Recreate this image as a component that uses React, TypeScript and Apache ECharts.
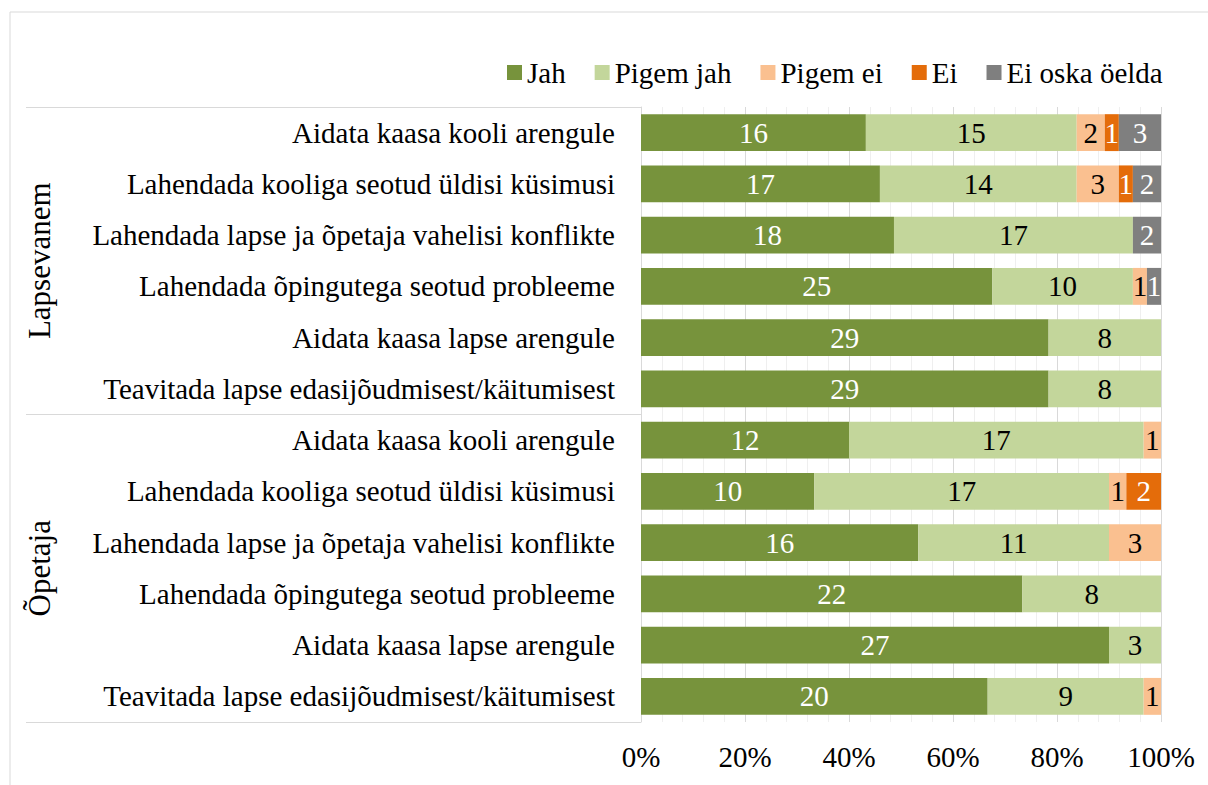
import React, { useEffect, useRef } from "react";
import * as echarts from "echarts";

const categories = [
  "Aidata kaasa kooli arengule",
  "Lahendada kooliga seotud üldisi küsimusi",
  "Lahendada lapse ja õpetaja vahelisi konflikte",
  "Lahendada õpingutega seotud probleeme",
  "Aidata kaasa lapse arengule",
  "Teavitada lapse edasijõudmisest/käitumisest",
  "Aidata kaasa kooli arengule",
  "Lahendada kooliga seotud üldisi küsimusi",
  "Lahendada lapse ja õpetaja vahelisi konflikte",
  "Lahendada õpingutega seotud probleeme",
  "Aidata kaasa lapse arengule",
  "Teavitada lapse edasijõudmisest/käitumisest",
];
const groups = ["Lapsevanem", "Õpetaja"];
const seriesNames = ["Jah", "Pigem jah", "Pigem ei", "Ei", "Ei oska öelda"];
const jah = [16, 17, 18, 25, 29, 29, 12, 10, 16, 22, 27, 20];
const pigemJah = [15, 14, 17, 10, 8, 8, 17, 17, 11, 8, 3, 9];
const pigemEi = [2, 3, 0, 1, 0, 0, 1, 1, 3, 0, 0, 1];
const ei = [1, 1, 0, 0, 0, 0, 0, 2, 0, 0, 0, 0];
const eiOska = [3, 2, 2, 1, 0, 0, 0, 0, 0, 0, 0, 0];
const xTicks = [0, 20, 40, 60, 80, 100];

const colors = ["#77933C", "#C3D69B", "#FAC090", "#E46C0A", "#7F7F7F"];
const labelColors = ["#ffffff", "#000000", "#000000", "#ffffff", "#ffffff"];
const FONT = "'Liberation Serif', 'Times New Roman', serif";

export default function App() {
  const ref = useRef<HTMLDivElement>(null);
  useEffect(() => {
    if (!ref.current) return;
    const chart = echarts.init(ref.current, null, { renderer: "svg" });
    const all = [jah, pigemJah, pigemEi, ei, eiOska];
    const totals = categories.map((_, i) => all.reduce((s, a) => s + a[i], 0));
    const series = all.map((arr, k) => ({
      name: seriesNames[k],
      type: "bar",
      stack: "total",
      barWidth: "72%",
      yAxisIndex: 0,
      itemStyle: { color: colors[k] },
      label: {
        show: true,
        position: "inside",
        color: labelColors[k],
        fontSize: 29,
        fontFamily: FONT,
        formatter: (p: any) => (arr[p.dataIndex] ? String(arr[p.dataIndex]) : ""),
      },
      data: arr.map((v, i) => (v / totals[i]) * 100),
    }));
    chart.setOption({
      animation: false,
      textStyle: { fontFamily: FONT },
      graphic: [
        {
          type: "rect",
          shape: { x: 10, y: 12, width: 1300, height: 900 },
          style: { fill: "none", stroke: "#d9d9d9", lineWidth: 1 },
          silent: true,
        },
      ],
      legend: {
        top: 53,
        left: 502,
        itemWidth: 15,
        itemHeight: 15,
        itemGap: 29,
        icon: "rect",
        textStyle: { fontSize: 29, fontFamily: FONT, color: "#000" },
        data: seriesNames,
      },
      grid: { left: 641, right: 47, top: 107, bottom: 63, containLabel: false },
      xAxis: {
        type: "value",
        min: xTicks[0],
        max: xTicks[xTicks.length - 1],
        interval: 20,
        axisLine: { show: false },
        axisTick: { show: false },
        axisLabel: {
          formatter: "{value}%",
          fontSize: 29,
          fontFamily: FONT,
          color: "#000",
          margin: 20,
        },
        splitLine: { show: true, lineStyle: { color: "#d9d9d9", width: 1 } },
        minorTick: { show: false, splitNumber: 5 },
        minorSplitLine: { show: true, lineStyle: { color: "#efefef", width: 1 } },
      },
      yAxis: [
        {
          type: "category",
          data: categories,
          inverse: true,
          axisLine: { show: false },
          axisTick: { show: false },
          axisLabel: { fontSize: 29, fontFamily: FONT, color: "#000", margin: 26 },
        },
        {
          type: "category",
          data: groups,
          inverse: true,
          position: "left",
          axisLine: { show: true, lineStyle: { color: "#d9d9d9" } },
          axisTick: { show: true, length: 615, lineStyle: { color: "#d9d9d9" } },
          axisLabel: {
            rotate: 90,
            fontSize: 31,
            fontFamily: FONT,
            color: "#000",
            margin: 586,
          },
        },
      ],
      series,
    });
    return () => chart.dispose();
  }, []);
  return (
    <div
      ref={ref}
      style={{ position: "fixed", left: 0, top: 0, width: 1208, height: 785, background: "#fff" }}
    />
  );
}
